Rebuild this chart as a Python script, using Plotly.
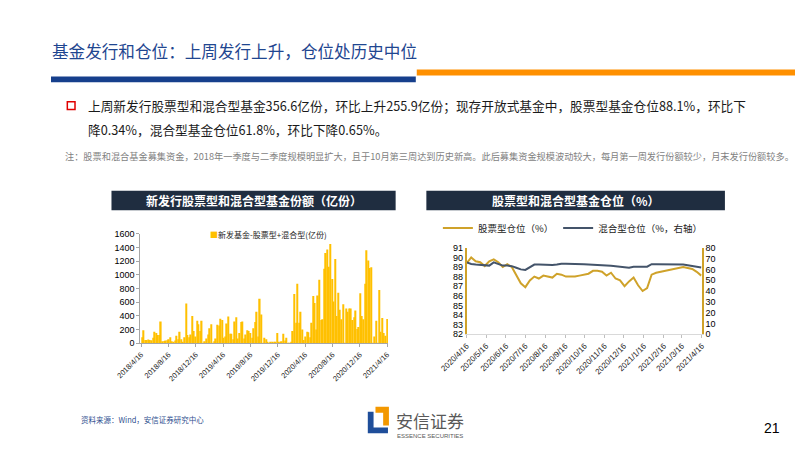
import pandas as pd
import plotly.graph_objects as go

# ---------------- data ----------------
bar_name = "新发基金-股票型+混合型(亿份)"
bar_vals = [
    90, 190, 50, 50, 55, 50, 45, 80, 170, 150, 120, 120, 320, 30, 35, 40, 45,
    60, 90, 30, 20, 40, 110, 60, 170, 60, 10, 90, 580, 120, 90, 130, 400, 180,
    100, 330, 280, 180, 330, 5, 30, 70, 130, 220, 280, 5, 30, 70, 270, 260, 360,
    340, 80, 100, 290, 390, 140, 140, 60, 320, 380, 70, 150, 310, 320, 70, 130, 190,
    180, 150, 80, 220, 310, 460, 100, 650, 420, 5, 80, 60, 10, 5, 10, 10, 10,
    10, 150, 10, 10, 30, 140, 40, 80, 5, 5, 20, 180, 720, 300, 870, 300, 460,
    200, 50, 100, 170, 160, 90, 300, 690, 590, 200, 700, 930, 340, 350, 1090, 1320, 1370,
    1120, 1450, 940, 610, 1230, 400, 740, 490, 350, 570, 5, 510, 460, 510, 510, 340, 380,
    480, 210, 240, 730, 400, 350, 870, 1360, 1210, 1100, 1110, 5, 100, 330, 5, 780, 170,
    370, 150, 110, 356.6,
]
bar_dates = pd.date_range(end="2021-04-16", periods=len(bar_vals), freq="7D")
bar_tickvals = ["2018-04-16", "2018-08-16", "2018-12-16", "2019-04-16", "2019-08-16",
                "2019-12-16", "2020-04-16", "2020-08-16", "2020-12-16", "2021-04-16"]
bar_ticktext = ["2018/4/16", "2018/8/16", "2018/12/16", "2019/4/16", "2019/8/16",
                "2019/12/16", "2020/4/16", "2020/8/16", "2020/12/16", "2021/4/16"]

stock_name = "股票型仓位（%）"
mixed_name = "混合型仓位（%，右轴）"
stock_pos = [89.4, 90.0, 89.6, 89.5, 89.1, 89.6, 89.8, 89.5, 89.0, 89.3, 89.0, 88.2, 87.3,
             86.9, 87.6, 88.0, 87.8, 88.1, 88.0, 87.9, 88.3, 88.2, 88.0, 88.0, 88.0, 88.1,
             88.2, 88.3, 88.6, 88.6, 88.5, 88.1, 88.4, 87.8, 87.6, 87.0, 87.5, 87.9, 87.1,
             86.5, 86.8, 88.2, 88.4, 88.5, 88.6, 88.7, 88.8, 88.9, 89.0, 88.9, 88.8, 88.5, 88.1]
mixed_pos = [66.5, 65.0, 64.5, 64.0, 63.5, 63.5, 66.5, 65.0, 63.5, 63.5, 63.0, 61.5, 60.0,
             59.5, 62.0, 64.5, 64.5, 64.3, 64.2, 64.0, 64.5, 65.3, 65.3, 65.0, 65.0, 64.8,
             64.7, 64.5, 64.4, 64.3, 64.0, 63.5, 63.3, 63.0, 62.5, 62.0, 61.5, 62.5, 62.8,
             62.5, 62.5, 64.8, 64.8, 64.8, 64.8, 64.8, 64.8, 64.6, 64.5, 63.8, 63.3, 62.8, 61.8]
pos_dates = pd.date_range(start="2020-04-16", periods=len(stock_pos), freq="7D")
pos_tickvals = ["2020-04-16", "2020-05-16", "2020-06-16", "2020-07-16", "2020-08-16",
                "2020-09-16", "2020-10-16", "2020-11-16", "2020-12-16", "2021-01-16",
                "2021-02-16", "2021-03-16", "2021-04-16"]
pos_ticktext = ["2020/4/16", "2020/5/16", "2020/6/16", "2020/7/16", "2020/8/16",
                "2020/9/16", "2020/10/16", "2020/11/16", "2020/12/16", "2021/1/16",
                "2021/2/16", "2021/3/16", "2021/4/16"]

title_text = "基金发行和仓位：上周发行上升，仓位处历史中位"
bullet_line1 = "上周新发行股票型和混合型基金356.6亿份，环比上升255.9亿份；现存开放式基金中，股票型基金仓位88.1%，环比下"
bullet_line2 = "降0.34%，混合型基金仓位61.8%，环比下降0.65%。"
note_text = ("注：股票和混合基金募集资金，2018年一季度与二季度规模明显扩大，且于10月第三周达到历史新高。"
             "此后募集资金规模波动较大，每月第一周发行份额较少，月末发行份额较多。")
left_title = "新发行股票型和混合型基金份额（亿份）"
right_title = "股票型和混合型基金仓位（%）"
source_text = "资料来源：Wind，安信证券研究中心"

# ---------------- helpers ----------------
W, H = 800, 450
CJK = "Noto Sans CJK SC"


def px(x):
    return x / W


def py(y):
    return 1 - y / H


GOLD = "#CFA22A"
NAVY_LINE = "#44546A"
BAR = "#FFC000"

fig = go.Figure()
fig.add_trace(go.Bar(x=bar_dates, y=bar_vals, name=bar_name, marker_color=BAR,
                     marker_line_width=0, xaxis="x", yaxis="y", showlegend=False))
fig.add_trace(go.Scatter(x=pos_dates, y=stock_pos, name=stock_name, mode="lines",
                         line=dict(color=GOLD, width=2), xaxis="x2", yaxis="y2",
                         legend="legend2"))
fig.add_trace(go.Scatter(x=pos_dates, y=mixed_pos, name=mixed_name, mode="lines",
                         line=dict(color=NAVY_LINE, width=2), xaxis="x2", yaxis="y3",
                         legend="legend2"))

tick_font_small = dict(family="Arial", size=7.5, color="#222222")

fig.update_layout(
    width=W, height=H, margin=dict(l=0, r=0, t=0, b=0),
    paper_bgcolor="white", plot_bgcolor="white",
    bargap=0.12, showlegend=True,
    xaxis=dict(domain=[px(118), px(376)], anchor="y", type="date",
               range=["2018-04-12", "2021-04-20"],
               tickvals=bar_tickvals, ticktext=bar_ticktext, tickangle=-45,
               ticks="outside", ticklen=3, tickcolor="#A6A6A6",
               showline=True, linecolor="#A6A6A6", linewidth=1,
               showgrid=False, zeroline=False, tickfont=tick_font_small),
    yaxis=dict(domain=[py(346), py(234)], anchor="x", range=[0, 1600], dtick=200,
               ticks="outside", ticklen=3, tickcolor="#A6A6A6",
               showline=True, linecolor="#A6A6A6", linewidth=1,
               showgrid=False, zeroline=False,
               tickfont=dict(family="Arial", size=9, color="#000000")),
    xaxis2=dict(domain=[px(458), px(703)], anchor="y2", type="date",
                range=["2020-04-16", "2021-04-16"],
                tickvals=pos_tickvals, ticktext=pos_ticktext, tickangle=-45,
                ticks="outside", ticklen=3, tickcolor="#BFBFBF",
                showline=True, linecolor="#D9D9D9", linewidth=1,
                showgrid=False, zeroline=False,
                tickfont=dict(family="Arial", size=8, color="#222222")),
    yaxis2=dict(domain=[py(336.7), py(248.3)], anchor="x2", range=[82, 91], dtick=1,
                showline=True, linecolor=GOLD, linewidth=1.5, ticks="",
                showgrid=False, zeroline=False,
                tickfont=dict(family="Arial", size=9, color="#000000")),
    yaxis3=dict(overlaying="y2", anchor="x2", side="right", range=[0, 80], dtick=10,
                showline=True, linecolor=GOLD, linewidth=1.5, ticks="",
                showgrid=False, zeroline=False,
                tickfont=dict(family="Arial", size=9, color="#000000")),
    legend2=dict(x=px(428), y=py(228), xanchor="left", yanchor="middle",
                 orientation="h", bgcolor="rgba(0,0,0,0)",
                 font=dict(family=CJK, size=9.5, color="#222222"),
                 itemwidth=30),
)

shapes = []
# title underline bars
shapes.append(dict(type="rect", xref="paper", yref="paper",
                   x0=px(25), x1=px(405), y0=py(79), y1=py(73),
                   fillcolor="#163F8C", line_width=0))
shapes.append(dict(type="rect", xref="paper", yref="paper",
                   x0=px(406), x1=px(800), y0=py(72), y1=py(66),
                   fillcolor="#FF9000", line_width=0))
# red hollow bullet
shapes.append(dict(type="rect", xref="paper", yref="paper",
                   x0=px(42), x1=px(50), y0=py(107), y1=py(99),
                   fillcolor="white", line=dict(color="#E00000", width=1.5)))
# chart title bars
shapes.append(dict(type="rect", xref="paper", yref="paper",
                   x0=px(88), x1=px(384), y0=py(210), y1=py(190),
                   fillcolor="#1F2D40", line_width=0))
shapes.append(dict(type="rect", xref="paper", yref="paper",
                   x0=px(416), x1=px(727), y0=py(210), y1=py(190),
                   fillcolor="#1F2D40", line_width=0))


def path(points):
    s = "M " + " L ".join(f"{px(x):.5f},{py(y):.5f}" for x, y in points) + " Z"
    return s


# logo: blue L and orange corner
shapes.append(dict(type="path", xref="paper", yref="paper",
                   path=path([(355, 416), (361, 416), (361, 432), (376, 432),
                              (376, 438), (355, 438)]),
                   fillcolor="#1F4E9A", line_width=0))
shapes.append(dict(type="path", xref="paper", yref="paper",
                   path=path([(363, 411), (377, 411), (377, 430), (371, 430),
                              (371, 417), (363, 417)]),
                   fillcolor="#F39800", line_width=0))
fig.update_layout(shapes=shapes)

ann = []


def text(x, y, s, size, color, family=CJK, anchor="left", bold=False):
    ann.append(dict(xref="paper", yref="paper", x=px(x), y=py(y), text=s,
                    showarrow=False, xanchor=anchor, yanchor="middle",
                    font=dict(family=family, size=size, color=color,
                              weight="bold" if bold else "normal")))


text(24, 47, title_text, 16.6, "#1F4690")
text(61, 103, bullet_line1, 12.7, "#1A1A1A")
text(61, 127, bullet_line2, 12.7, "#1A1A1A")
text(38, 154, note_text, 9.2, "#7F7F7F")
text(236, 200, left_title, 12, "white", anchor="center", bold=True)
text(571.5, 200, right_title, 12, "white", anchor="center", bold=True)
# legend of the bar chart
text(189, 235, f"<span style='color:{BAR}'>■</span>{bar_name}", 8, "#222222")
text(54, 424, source_text, 7.5, "#2F4F8F")
text(382, 425, "安信证券", 17, "#595959")
text(383, 441, "ESSENCE SECURITIES", 6, "#595959", family="Arial")
text(766, 433, "21", 14, "#000000", family="Arial")
fig.update_layout(annotations=ann)

fig.write_html("out.html")
